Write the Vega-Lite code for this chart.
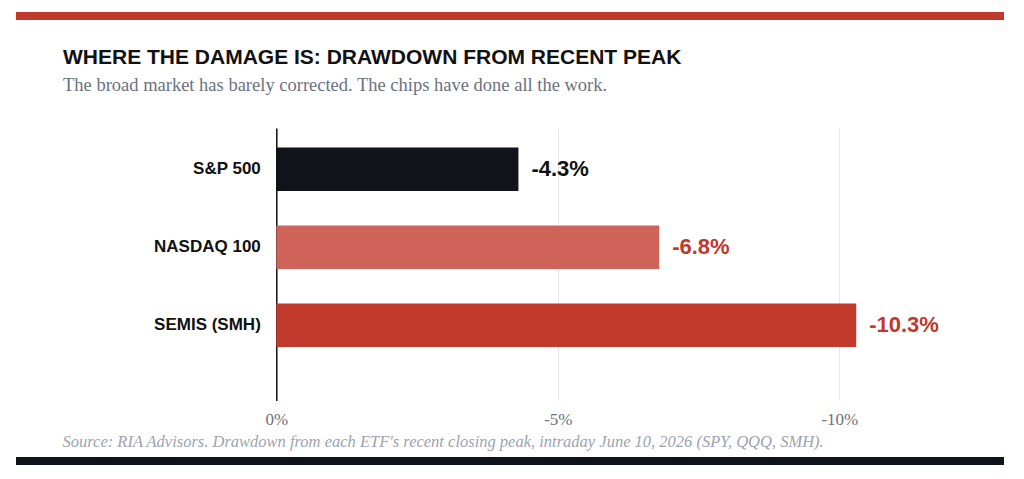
{
  "$schema": "https://vega.github.io/schema/vega-lite/v6.json",
  "background": "white",
  "padding": {"left": 15, "top": 11, "right": 0, "bottom": 0},
  "config": {
    "view": {"stroke": null},
    "locale": {"number": {"decimal": ".", "thousands": ",", "grouping": [3], "currency": ["$", ""], "minus": "-"}}
  },
  "datasets": {
    "drawdown": [
      {"index": "S&P 500", "drawdown": -0.043},
      {"index": "NASDAQ 100", "drawdown": -0.068},
      {"index": "SEMIS (SMH)", "drawdown": -0.103}
    ],
    "blank": [{}]
  },
  "spacing": 26,
  "vconcat": [
    {
      "width": 988,
      "height": 8,
      "data": {"name": "blank"},
      "view": {"fill": "#c0392b", "stroke": null},
      "mark": {"type": "rule", "opacity": 0},
      "encoding": {}
    },
    {
      "spacing": 6,
      "vconcat": [
        {
          "width": 988,
          "height": 272.4,
          "data": {"name": "drawdown"},
          "title": {
            "text": "WHERE THE DAMAGE IS: DRAWDOWN FROM RECENT PEAK",
            "subtitle": "The broad market has barely corrected. The chips have done all the work.",
            "anchor": "start",
            "dx": 47,
            "offset": 34,
            "font": "Liberation Sans",
            "fontSize": 21,
            "fontWeight": "bold",
            "color": "#111111",
            "subtitleFont": "Liberation Serif",
            "subtitleFontSize": 18.5,
            "subtitleColor": "#6b7280",
            "subtitlePadding": 8
          },
          "encoding": {
            "y": {
              "field": "index",
              "type": "nominal",
              "sort": ["S&P 500", "NASDAQ 100", "SEMIS (SMH)"],
              "scale": {"paddingInner": 0.442, "paddingOuter": 0.469, "align": 0.268},
              "axis": {
                "title": null,
                "offset": -260.3,
                "domain": true,
                "domainColor": "#111111",
                "domainWidth": 1.5,
                "ticks": false,
                "grid": false,
                "labelFont": "Liberation Sans",
                "labelFontSize": 17,
                "labelFontWeight": "bold",
                "labelColor": "#111111",
                "labelPadding": 16
              }
            },
            "x": {
              "field": "drawdown",
              "type": "quantitative",
              "scale": {"domain": [0.04624, -0.12925], "nice": false, "zero": false},
              "axis": {
                "title": null,
                "values": [0, -0.05, -0.1],
                "format": ".0%",
                "domain": false,
                "ticks": false,
                "grid": true,
                "gridColor": "#e6e6e6",
                "gridWidth": 1,
                "labelFont": "Liberation Serif",
                "labelFontSize": 17,
                "labelColor": "#6b7280",
                "labelPadding": 11
              }
            }
          },
          "layer": [
            {
              "mark": {"type": "bar"},
              "encoding": {
                "color": {
                  "field": "index",
                  "type": "nominal",
                  "scale": {"domain": ["S&P 500", "NASDAQ 100", "SEMIS (SMH)"], "range": ["#11131a", "#cf635a", "#c0392b"]},
                  "legend": null
                }
              }
            },
            {
              "mark": {"type": "text", "align": "left", "baseline": "middle", "dx": 13, "font": "Liberation Sans", "fontSize": 22, "fontWeight": "bold"},
              "encoding": {
                "text": {"field": "drawdown", "type": "quantitative", "format": ".1%"},
                "color": {
                  "field": "index",
                  "type": "nominal",
                  "scale": {"domain": ["S&P 500", "NASDAQ 100", "SEMIS (SMH)"], "range": ["#111111", "#c0392b", "#c0392b"]},
                  "legend": null
                }
              }
            }
          ],
          "resolve": {"scale": {"color": "independent"}}
        },
        {
          "width": 988,
          "height": 8,
          "data": {"name": "blank"},
          "view": {"fill": "#11131a", "stroke": null},
          "title": {
            "text": "Source: RIA Advisors. Drawdown from each ETF's recent closing peak, intraday June 10, 2026 (SPY, QQQ, SMH).",
            "anchor": "start",
            "dx": 47,
            "offset": 6,
            "font": "Liberation Serif",
            "fontSize": 16.5,
            "fontStyle": "italic",
            "fontWeight": "normal",
            "color": "#9ca3af"
          },
          "mark": {"type": "rule", "opacity": 0},
          "encoding": {}
        }
      ]
    }
  ]
}
